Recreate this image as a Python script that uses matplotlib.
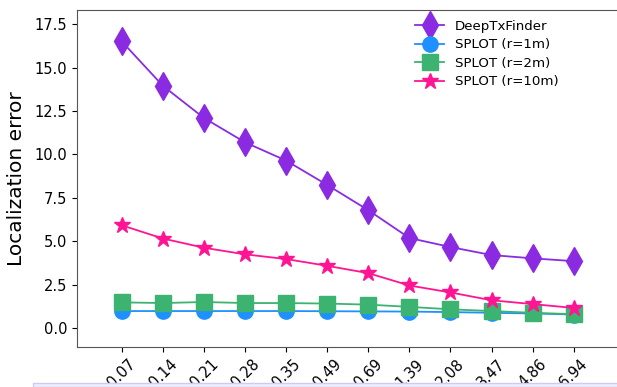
import matplotlib
matplotlib.use("Agg")
import matplotlib.pyplot as plt
from matplotlib.patches import Rectangle

x_labels = ["0.07", "0.14", "0.21", "0.28", "0.35", "0.49", "0.69", "1.39", "2.08", "3.47", "4.86", "6.94"]
deeptx = [16.5, 13.95, 12.1, 10.7, 9.65, 8.25, 6.8, 5.2, 4.68, 4.22, 4.03, 3.87]
splot_1m = [1.0, 1.0, 1.0, 1.0, 1.0, 0.99, 0.98, 0.97, 0.94, 0.9, 0.86, 0.8]
splot_2m = [1.5, 1.46, 1.52, 1.46, 1.46, 1.43, 1.37, 1.24, 1.1, 1.0, 0.9, 0.82]
splot_10m = [5.93, 5.17, 4.64, 4.26, 3.99, 3.6, 3.18, 2.47, 2.07, 1.62, 1.4, 1.18]

fig = plt.figure(figsize=(6.17, 3.87), dpi=100)
ax = fig.add_axes([0.1248, 0.1041, 0.8802, 0.8693])
idx = list(range(len(x_labels)))

ax.plot(idx, deeptx, color="#8A2BE2", marker="d", markersize=14, lw=1.3, label="DeepTxFinder")
ax.plot(idx, splot_1m, color="#1E90FF", marker="o", markersize=11, lw=1.3, label="SPLOT (r=1m)")
ax.plot(idx, splot_2m, color="#3CB371", marker="s", markersize=11, lw=1.3, label="SPLOT (r=2m)")
ax.plot(idx, splot_10m, color="#FF1493", marker="*", markersize=12, lw=1.3, label="SPLOT (r=10m)")

ax.set_xlim(-1.09, 12.13)
ax.set_ylim(-1.05, 18.29)
ax.set_yticks([0.0, 2.5, 5.0, 7.5, 10.0, 12.5, 15.0, 17.5])
ax.set_xticks(idx)
ax.set_xticklabels(x_labels, rotation=45, fontsize=10.5)
ax.tick_params(axis="y", labelsize=10.5)
ax.set_ylabel("Localization error", fontsize=14.5, labelpad=6)
for s in ax.spines.values():
    s.set_color("#555555")

ax.legend(loc="upper left", bbox_to_anchor=(0.60, 1.008), frameon=False, fontsize=9.6,
          handlelength=2.2, labelspacing=0.42)

fig.patches.append(Rectangle((33 / 617, 0), 1.0, 4 / 387, transform=fig.transFigure,
                             facecolor="#EEEEFF", edgecolor="#CCCCF2", lw=1.0, zorder=10))

fig.savefig("out.png", dpi=100)
